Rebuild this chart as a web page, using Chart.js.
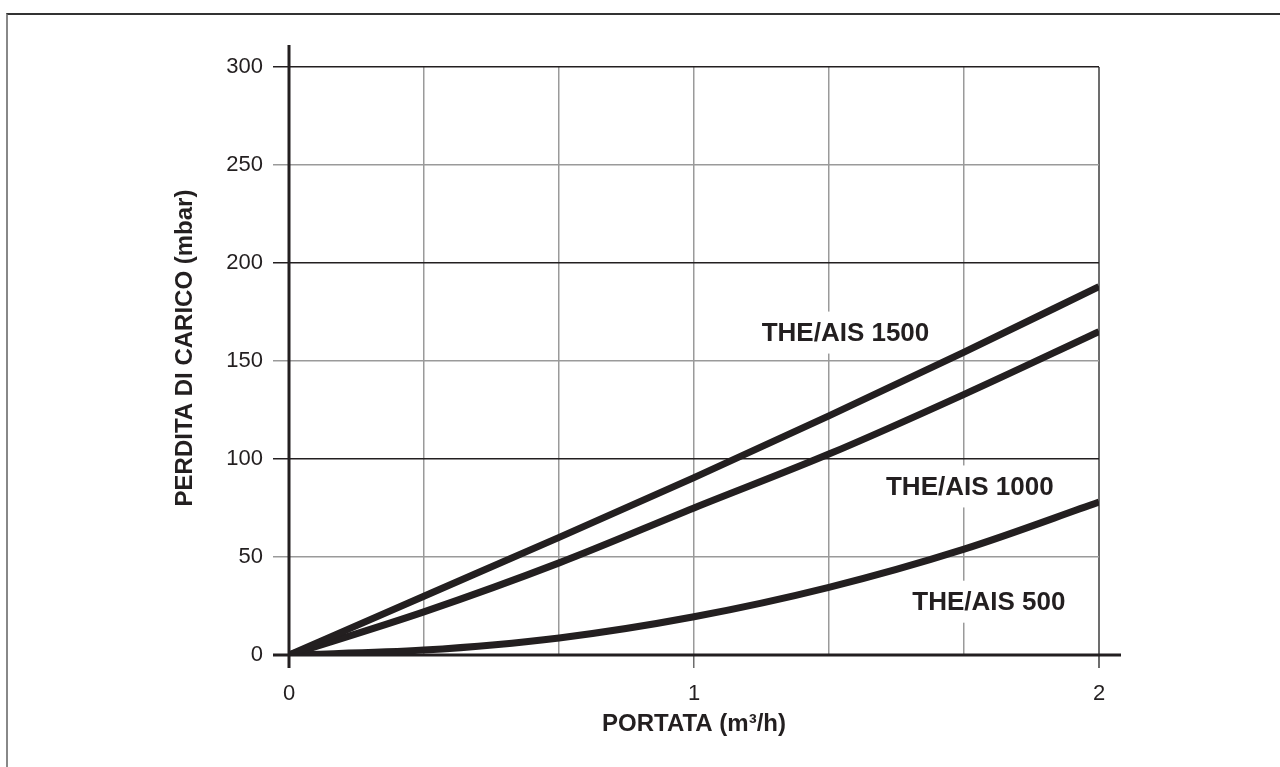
<!DOCTYPE html>
<html lang="it">
<head>
  <meta charset="UTF-8">
  <title>Perdita di carico THE/AIS</title>
  <style>
    html, body { margin: 0; padding: 0; background: #fff; overflow: hidden; }
    #chart { position: absolute; left: 0; top: 0; }
    .frame { position: absolute; left: 6px; top: 13px; width: 1400px; height: 900px;
             border-top: 2px solid #333; border-left: 2px solid #888; pointer-events: none; }
  </style>
</head>
<body>
  <canvas id="chart" width="1280" height="767"></canvas>
  <div class="frame"></div>
  <script src="https://cdn.jsdelivr.net/npm/chart.js"></script>
  <script>
    // portata (m3/h) and perdita di carico (mbar)
    const flowRates = [0, 0.333, 0.667, 1, 1.333, 1.667, 2];
    const loss1500 = [0, 30, 60, 90.5, 122, 154.5, 188];
    const loss1000 = [0, 22, 47, 75, 102.5, 133, 165];
    const loss500 = [0, 2.5, 8.7, 19.5, 34.5, 54, 78];

    const seriesNames = ['THE/AIS 1500', 'THE/AIS 1000', 'THE/AIS 500'];
    const xGrid = [0, 1 / 3, 2 / 3, 1, 4 / 3, 5 / 3, 2];
    const xTickLabels = ['0', '', '', '1', '', '', '2'];
    const yTicks = [0, 50, 100, 150, 200, 250, 300];
    const yTitle = 'PERDITA DI CARICO (mbar)';

    const ink = '#231f20';
    const font = "'Liberation Sans', Arial, Helvetica, sans-serif";

    // where the curve names sit, in data units
    const labelSpots = [
      { x: 1.374, y: 164.5 },
      { x: 1.681, y: 86 },
      { x: 1.728, y: 27.2 }
    ];

    const axesPlugin = {
      id: 'axes',
      beforeDatasetsDraw(chart) {
        const { ctx, chartArea: a } = chart;
        ctx.save();
        ctx.strokeStyle = ink;
        ctx.lineWidth = 3;
        ctx.beginPath();
        ctx.moveTo(a.left - 16, a.bottom);
        ctx.lineTo(a.right + 22, a.bottom);
        ctx.moveTo(a.left, a.top - 22);
        ctx.lineTo(a.left, a.bottom + 13);
        ctx.stroke();

        // curve names on white boxes
        const xs = chart.scales.x, ys = chart.scales.y;
        ctx.font = 'bold 26px ' + font;
        ctx.textAlign = 'center';
        ctx.textBaseline = 'middle';
        seriesNames.forEach((name, i) => {
          const px = xs.getPixelForValue(labelSpots[i].x);
          const py = ys.getPixelForValue(labelSpots[i].y);
          const w = ctx.measureText(name).width;
          ctx.fillStyle = '#fff';
          ctx.fillRect(px - w / 2 - 4, py - 21, w + 8, 42);
          ctx.fillStyle = ink;
          ctx.fillText(name, px, py + 1);
        });

        // y axis title, sitting a little above the middle of the plot
        ctx.translate(a.left - 104, (a.top + a.bottom) / 2 - 13);
        ctx.rotate(-Math.PI / 2);
        ctx.font = 'bold 24px ' + font;
        ctx.fillText(yTitle, 0, 0);
        ctx.restore();
      }
    };

    const lineStyle = {
      borderColor: ink,
      borderWidth: 7,
      pointRadius: 0,
      fill: false,
      cubicInterpolationMode: 'monotone',
      borderCapStyle: 'butt'
    };

    new Chart(document.getElementById('chart'), {
      type: 'line',
      data: {
        datasets: [
          { label: seriesNames[0], data: flowRates.map((x, i) => ({ x: x, y: loss1500[i] })), ...lineStyle },
          { label: seriesNames[1], data: flowRates.map((x, i) => ({ x: x, y: loss1000[i] })), ...lineStyle },
          { label: seriesNames[2], data: flowRates.map((x, i) => ({ x: x, y: loss500[i] })), ...lineStyle }
        ]
      },
      options: {
        responsive: false,
        animation: false,
        layout: { padding: { top: 67, right: 181, left: 0, bottom: 0 } },
        plugins: { legend: { display: false }, tooltip: { enabled: false } },
        scales: {
          x: {
            type: 'linear',
            min: 0,
            max: 2,
            afterBuildTicks: s => { s.ticks = xGrid.map(v => ({ value: v })); },
            afterFit: s => { s.height = 112; },
            border: { display: false },
            grid: {
              color: c => c.index === xGrid.length - 1 ? '#6d6d6d' : '#9a9a9a',
              lineWidth: c => c.index === xGrid.length - 1 ? 2 : 1.5,
              tickLength: 13,
              tickColor: c => xTickLabels[c.index] ? '#6d6d6d' : 'rgba(0,0,0,0)'
            },
            ticks: {
              autoSkip: false,
              maxRotation: 0,
              padding: 13,
              color: ink,
              font: { family: font, size: 22 },
              callback: (v, i) => xTickLabels[i]
            },
            title: {
              display: true,
              text: 'PORTATA (m³/h)',
              color: ink,
              font: { family: font, size: 24, weight: 'bold' },
              padding: { top: 0, bottom: 28 }
            }
          },
          y: {
            min: 0,
            max: 300,
            afterBuildTicks: s => { s.ticks = yTicks.map(v => ({ value: v })); },
            afterFit: s => { s.width = 289; },
            border: { display: false },
            grid: {
              color: c => c.tick.value % 100 === 0 ? ink : '#9a9a9a',
              lineWidth: 1.5,
              tickLength: 16
            },
            ticks: {
              padding: 10,
              color: ink,
              font: { family: font, size: 22 }
            }
          }
        }
      },
      plugins: [axesPlugin]
    });
  </script>
</body>
</html>
